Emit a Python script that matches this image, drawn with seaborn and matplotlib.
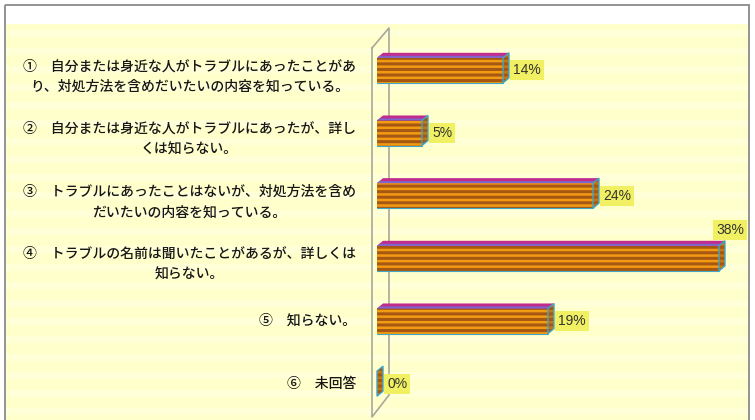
import numpy as np
import seaborn as sns
import matplotlib
matplotlib.use("Agg")
import matplotlib.pyplot as plt
from matplotlib.patches import Polygon, Rectangle
from matplotlib.lines import Line2D
from matplotlib.transforms import Affine2D, IdentityTransform, ScaledTranslation

# ---- data -------------------------------------------------------------
categories = [
    "①　自分または身近な人がトラブルにあったことがあ\nり、対処方法を含めだいたいの内容を知っている。",
    "②　自分または身近な人がトラブルにあったが、詳し\nくは知らない。",
    "③　トラブルにあったことはないが、対処方法を含め\nだいたいの内容を知っている。",
    "④　トラブルの名前は聞いたことがあるが、詳しくは\n知らない。",
    "⑤　知らない。",
    "⑥　未回答",
]
shares = [14, 5, 24, 38, 19, 0]
value_labels = [f"{v}%" for v in shares]

# ---- styling ----------------------------------------------------------
W, H, DPI = 755, 420, 100
ORANGE = "#F29A12"
BROWN = "#A65812"
MAGENTA = "#C02C8C"
VIOLET = "#7A66CC"
TEAL = "#3FA8C8"
PANEL = "#FFFFCC"
LABEL_BOX = "#F0F062"

sns.set_theme(style="white")
plt.rcParams["font.family"] = ["Noto Sans CJK JP", "DejaVu Sans"]
plt.rcParams["hatch.linewidth"] = 2.2

fig = plt.figure(figsize=(W / DPI, H / DPI), dpi=DPI)
fig.patch.set_facecolor("white")

# pixel coordinates measured from the top-left corner of the figure
pix = Affine2D().scale(1, -1).translate(0, H)

# outer frame and pale yellow panel with faint horizontal streaks
fig.add_artist(Rectangle((6, 24), 742, 400, transform=pix, fc=PANEL, ec="none", zorder=-5))
for y in range(30, 420, 18):
    fig.add_artist(Rectangle((6, y), 742, 7, transform=pix, fc="#FFFFD8", ec="none", zorder=-4))
fig.add_artist(Rectangle((5, 5), 744, 420, transform=pix, fc="none", ec="#8A8A8A", lw=1.3, zorder=-3))

# back wall of the 3-D category axis
wall = [(372, 48), (389, 28), (389, 395), (372, 417), (372, 48)]
fig.add_artist(Line2D([p[0] for p in wall], [p[1] for p in wall], transform=pix,
                      color="#A8A89A", lw=1.2, zorder=-2))

ax = fig.add_axes([377 / W, 1 - 415 / H, 360 / W, 376 / H])
ax.set_zorder(1)
ax.set_facecolor("none")

sns.barplot(x=shares, y=categories, orient="h", color=ORANGE, saturation=1,
            width=0.4, linewidth=0, ax=ax)
ax.set_xlim(0, 40)
ax.set_ylim(len(categories) - 0.5, -0.5)

for s in ax.spines.values():
    s.set_visible(False)
ax.set_xticks([])
ax.set_xlabel("")
ax.set_ylabel("")
ax.tick_params(axis="y", length=0, labelleft=False)

# category labels: right-aligned against the wall, lines centred within each block
for i, cat in enumerate(categories):
    nlines = cat.count("\n") + 1
    shift = -4.5 * (nlines - 1) / 72  # two-line labels sit slightly lower
    tr = ax.get_yaxis_transform() + ScaledTranslation(-15 / 72, shift, fig.dpi_scale_trans)
    ax.text(0, i, cat, transform=tr, ha="right", va="center", multialignment="center",
            fontsize=10, fontweight="medium", linespacing=1.6, color="#161616")

# 3-D depth of each bar, in pixels
DX, DY = 6, 5
ident = IdentityTransform()
vmax = max(shares)

for patch, val, lab in zip(ax.patches, shares, value_labels):
    patch.set_hatch("---")
    patch.set_edgecolor(BROWN)
    patch.set_linewidth(0)
    patch.set_zorder(3)

    x0, y0 = patch.get_x(), patch.get_y()
    x1, y1 = x0 + patch.get_width(), y0 + patch.get_height()
    (L, ya), (R, yb) = ax.transData.transform([(x0, y0), (x1, y1)])
    T, B = max(ya, yb), min(ya, yb)

    top = Polygon([(L, T), (R, T), (R + DX, T + DY), (L + DX, T + DY)],
                  closed=True, transform=ident, fc=MAGENTA, ec="none", zorder=4, clip_on=False)
    band = Polygon([(L, T), (R, T), (R + DX * 0.4, T + DY * 0.4), (L + DX * 0.4, T + DY * 0.4)],
                   closed=True, transform=ident, fc=VIOLET, ec="none", zorder=4.1, clip_on=False)
    side = Polygon([(R, T), (R + DX, T + DY), (R + DX, B + DY), (R, B)],
                   closed=True, transform=ident, fc="#C07A18", ec=BROWN, lw=0,
                   hatch="---", zorder=4, clip_on=False)
    for art in (top, band, side):
        ax.add_artist(art)
    ax.add_artist(Line2D([L, R], [B, B], transform=ident, color=TEAL, lw=0.8,
                         zorder=4.2, clip_on=False))
    ax.add_artist(Polygon([(R, T), (R + DX, T + DY), (R + DX, B + DY), (R, B)],
                          closed=True, transform=ident, fc="none", ec=TEAL, lw=1.0,
                          zorder=4.3, clip_on=False))

    box = dict(boxstyle="square,pad=0.22", fc=LABEL_BOX, ec="none")
    if val == vmax:
        ax.text(R + DX + 5, T + DY + 4, lab, transform=ident, ha="center", va="bottom",
                fontsize=10, family=["Liberation Sans", "DejaVu Sans"], color="#333333",
                bbox=box, zorder=6)
    else:
        ax.text(R + DX + 4, (T + B) / 2, lab, transform=ident, ha="left", va="center",
                fontsize=10, family=["Liberation Sans", "DejaVu Sans"], color="#333333",
                bbox=box, zorder=6)

fig.savefig("out.png", dpi=DPI, facecolor=fig.get_facecolor())
